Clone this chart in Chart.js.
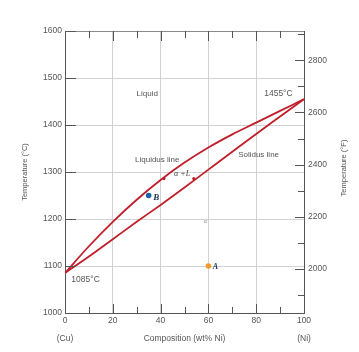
<!DOCTYPE html>
<html>
<head>
<meta charset="utf-8">
<script src="https://cdn.jsdelivr.net/npm/chart.js@4"></script>
<style>
  html, body { margin: 0; padding: 0; background: #fff; }
  #wrap { width: 359px; height: 352px; position: relative; }
</style>
</head>
<body>
<div id="wrap"><canvas id="phaseChart"></canvas></div>
<script>
// ===== DATA: Cu-Ni phase diagram =====
const composition = [0, 10, 20, 30, 40, 50, 60, 70, 80, 90, 100];
const liquidusC   = [1085, 1142, 1194, 1241, 1283, 1320, 1352, 1380, 1405, 1430, 1455];
const solidusC    = [1085, 1120, 1157, 1194, 1230, 1267, 1305, 1343, 1381, 1418, 1455];

const pointA   = [{ x: 60, y: 1100 }];
const pointB   = [{ x: 35, y: 1250 }];
const tiePoints = [{ x: 41.4, y: 1286 }, { x: 53.9, y: 1286 }];

// tick values
const compTicks  = [0, 10, 20, 30, 40, 50, 60, 70, 80, 90, 100];
const tempCTicks = [1000, 1100, 1200, 1300, 1400, 1500, 1600];
const tempFTicks = [1900, 2000, 2100, 2200, 2300, 2400, 2500, 2600, 2700, 2800, 2900];

const toF = c => c * 9 / 5 + 32;

const AXIS = "#555";
const GRID = "#d2d2d2";
const TEXT = "#555";
const RED  = "#bf1e2a";
const FONT = "'Liberation Sans', Arial, sans-serif";

// ===== inward tick marks on all four sides =====
const innerTicks = {
  id: "innerTicks",
  afterDatasetsDraw(chart) {
    const { ctx, chartArea: a, scales } = chart;
    ctx.save();
    ctx.strokeStyle = AXIS;
    ctx.lineWidth = 1;
    ctx.beginPath();
    compTicks.forEach(v => {
      const px = Math.round(scales.x.getPixelForValue(v)) + 0.5;
      const len = v % 20 === 0 ? 9 : 6;
      ctx.moveTo(px, a.bottom); ctx.lineTo(px, a.bottom - len);
      ctx.moveTo(px, a.top);    ctx.lineTo(px, a.top + len + 1);
    });
    tempCTicks.forEach(v => {
      const py = Math.round(scales.y.getPixelForValue(v)) + 0.5;
      ctx.moveTo(a.left, py); ctx.lineTo(a.left + 11, py);
    });
    tempFTicks.forEach(v => {
      const py = Math.round(scales.y2.getPixelForValue(v)) + 0.5;
      const len = v % 200 === 0 ? 9 : 6;
      ctx.moveTo(a.right, py); ctx.lineTo(a.right - len, py);
    });
    ctx.stroke();
    ctx.restore();
  }
};

// ===== text annotations in data coordinates =====
const notes = [
  { text: "Liquid",        x: 34.4, y: 1466, font: "8px " + FONT, color: TEXT },
  { text: "1455°C",        x: 89.3, y: 1466, font: "8.5px " + FONT, color: TEXT },
  { text: "Liquidus line", x: 38.6, y: 1327, font: "8px " + FONT, color: TEXT },
  { text: "Solidus line",  x: 81,   y: 1336, font: "8px " + FONT, color: TEXT },
  { text: "1085°C",        x: 8.6,  y: 1070, font: "8.5px " + FONT, color: TEXT },
  { text: "α +L",          x: 49,   y: 1296, font: "italic 8px 'Liberation Serif', serif", color: "#444" },
  { text: "α",             x: 58.7, y: 1194, font: "italic 6px 'Liberation Serif', serif", color: "#888" },
  { text: "B",             x: 38.2, y: 1245, font: "bold italic 9px 'Liberation Serif', serif", color: "#1d3557" },
  { text: "A",             x: 62.9, y: 1099, font: "bold italic 8px 'Liberation Serif', serif", color: "#1d3557" }
];

const annotate = {
  id: "annotate",
  afterDraw(chart) {
    const { ctx, scales, chartArea: a } = chart;
    ctx.save();
    ctx.textAlign = "center";
    ctx.textBaseline = "middle";
    notes.forEach(n => {
      ctx.font = n.font;
      ctx.fillStyle = n.color;
      ctx.fillText(n.text, scales.x.getPixelForValue(n.x), scales.y.getPixelForValue(n.y));
    });
    // end labels under the composition axis
    ctx.font = "8.5px " + FONT;
    ctx.fillStyle = TEXT;
    ctx.fillText("(Cu)", scales.x.getPixelForValue(0), 339);
    ctx.fillText("(Ni)", scales.x.getPixelForValue(100), 339);
    // right axis title, reading bottom to top like the left one
    ctx.font = "7.5px " + FONT;
    ctx.translate(scales.y2.right - 15, (a.top + a.bottom) / 2 - 4);
    ctx.rotate(-Math.PI / 2);
    ctx.fillText("Temperature (°F)", 0, 0);
    ctx.restore();
  }
};

const ctx = document.getElementById("phaseChart").getContext("2d");

new Chart(ctx, {
  type: "scatter",
  data: {
    datasets: [
      {
        label: "Liquidus",
        data: composition.map((c, i) => ({ x: c, y: liquidusC[i] })),
        showLine: true,
        borderColor: RED,
        borderWidth: 1.8,
        pointRadius: 0,
        cubicInterpolationMode: "monotone",
        fill: false
      },
      {
        label: "Solidus",
        data: composition.map((c, i) => ({ x: c, y: solidusC[i] })),
        showLine: true,
        borderColor: RED,
        borderWidth: 1.8,
        pointRadius: 0,
        cubicInterpolationMode: "monotone",
        fill: false
      },
      {
        label: "Tie line ends",
        data: tiePoints,
        pointRadius: 1.6,
        pointBackgroundColor: RED,
        pointBorderWidth: 0
      },
      {
        label: "B",
        data: pointB,
        pointRadius: 2.8,
        pointBackgroundColor: "#1c62a8",
        pointBorderWidth: 0
      },
      {
        label: "A",
        data: pointA,
        pointRadius: 2.8,
        pointBackgroundColor: "#f39a2b",
        pointBorderWidth: 0
      }
    ]
  },
  options: {
    responsive: true,
    maintainAspectRatio: false,
    animation: false,
    layout: { padding: { top: 31, left: 0, right: 0, bottom: 0 } },
    plugins: {
      legend: { display: false },
      tooltip: { enabled: false }
    },
    scales: {
      x: {
        type: "linear",
        position: "bottom",
        min: 0,
        max: 100,
        afterFit: s => { s.height = 39; },
        afterBuildTicks: s => { s.ticks = compTicks.map(v => ({ value: v })); },
        border: { display: true, color: AXIS, width: 1 },
        grid: {
          drawTicks: false,
          color: c => (c.tick && c.tick.value % 20 === 0 && c.tick.value > 0 && c.tick.value < 100) ? GRID : "transparent"
        },
        ticks: {
          autoSkip: false,
          maxRotation: 0,
          padding: 3,
          color: TEXT,
          font: { size: 8.5, family: FONT },
          callback: v => (v % 20 === 0 ? String(v) : "")
        },
        title: {
          display: true,
          text: "Composition (wt% Ni)",
          color: TEXT,
          font: { size: 8.5, family: FONT },
          padding: { top: 0, bottom: 8 }
        }
      },
      y: {
        type: "linear",
        position: "left",
        min: 1000,
        max: 1600,
        afterFit: s => { s.width = 65; },
        afterBuildTicks: s => { s.ticks = tempCTicks.map(v => ({ value: v })); },
        border: { display: true, color: AXIS, width: 1 },
        grid: {
          drawTicks: false,
          color: c => {
            if (!c.tick) return GRID;
            if (c.tick.value === 1600) return "#8a8a8a";
            if (c.tick.value === 1000) return "transparent";
            return GRID;
          }
        },
        ticks: {
          padding: 3,
          color: TEXT,
          font: { size: 8.5, family: FONT },
          callback: v => String(v)
        },
        title: {
          display: true,
          text: "Temperature (°C)",
          color: TEXT,
          font: { size: 7.5, family: FONT },
          padding: { top: 20, bottom: 0 }
        }
      },
      y2: {
        type: "linear",
        position: "right",
        min: toF(1000),
        max: toF(1600),
        afterFit: s => { s.width = 55; },
        afterBuildTicks: s => { s.ticks = tempFTicks.map(v => ({ value: v })); },
        border: { display: true, color: AXIS, width: 1 },
        grid: { drawOnChartArea: false, drawTicks: false },
        ticks: {
          padding: 4,
          color: TEXT,
          font: { size: 8.5, family: FONT },
          callback: v => (v % 200 === 0 ? String(v) : "")
        },
        title: { display: false }
      }
    }
  },
  plugins: [innerTicks, annotate]
});
</script>
</body>
</html>
